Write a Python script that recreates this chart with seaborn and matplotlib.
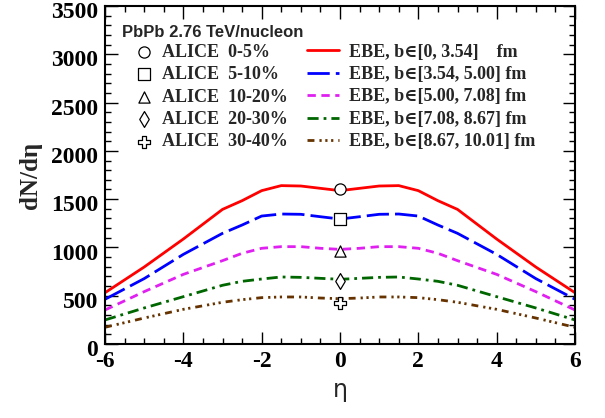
import numpy as np
import pandas as pd
import matplotlib
matplotlib.use("Agg")
import matplotlib.pyplot as plt
from matplotlib.ticker import MultipleLocator
from matplotlib.transforms import ScaledTranslation
import seaborn as sns

# pseudorapidity grid of the EBE curves
eta = [-6, -5, -4, -3, -2.5, -2, -1.5, -1, -0.5, 0, 0.5, 1, 1.5, 2, 2.5, 3, 4, 5, 6]

ebe_0 = [531, 797, 1087, 1394, 1484, 1588, 1640, 1636, 1612, 1588, 1612, 1636, 1640, 1588, 1484, 1394, 1087, 797, 531]
ebe_1 = [463, 677, 928, 1146, 1232, 1325, 1346, 1343, 1318, 1294, 1318, 1343, 1346, 1325, 1232, 1146, 928, 677, 463]
ebe_2 = [352, 542, 721, 863, 939, 991, 1008, 1008, 991, 980, 991, 1008, 1008, 991, 939, 863, 721, 542, 352]
ebe_3 = [249, 373, 490, 608, 649, 673, 694, 690, 680, 670, 680, 690, 694, 673, 649, 608, 490, 373, 249]
ebe_4 = [173, 269, 359, 432, 459, 480, 487, 487, 476, 469, 476, 487, 487, 480, 459, 432, 359, 269, 173]

ebe_labels = ["EBE, b\u2208[0, 3.54]    fm", "EBE, b\u2208[3.54, 5.00] fm",
              "EBE, b\u2208[5.00, 7.08] fm", "EBE, b\u2208[7.08, 8.67] fm",
              "EBE, b\u2208[8.67, 10.01] fm"]

# ALICE data at eta = 0
alice_eta = [0, 0, 0, 0, 0]
alice_dndeta = [1601, 1294, 966, 649, 426]
alice_labels = ["ALICE  0-5%", "ALICE  5-10%", "ALICE  10-20%", "ALICE  20-30%", "ALICE  30-40%"]

sns.set_style("ticks")
plt.rcParams["font.family"] = ["Liberation Serif", "DejaVu Serif"]
plt.rcParams["font.weight"] = "bold"
plt.rcParams["axes.unicode_minus"] = False

fig = plt.figure(figsize=(6.05, 4.18), dpi=100)
ax = fig.add_axes([105/605, 1-344/418, 470/605, 338/418])

colors = ["#ff0000", "#0000ff", "#e020f0", "#006600", "#663300"]
styles = ["-", (0, (8, 2.2)), (0, (3, 2)), (0, (4, 1.8, 1, 1.8)), (0, (2.5, 1.8, 0.8, 1.3, 0.8, 1.3, 0.8, 1.8))]
curves = [ebe_0, ebe_1, ebe_2, ebe_3, ebe_4]

line_handles = []
for vals, c, ls, lab in zip(curves, colors, styles, ebe_labels):
    sns.lineplot(x=eta, y=vals, ax=ax, color=c, linestyle=ls, linewidth=2.0, label=lab)
    line_handles.append(ax.lines[-1])

markers = ["o", "s", "^", "d", "P"]
pt_handles = []
for x0, y0, m, lab in zip(alice_eta, alice_dndeta, markers, alice_labels):
    sns.scatterplot(x=[x0], y=[y0], ax=ax, marker=m, s=65, color="white",
                    edgecolor="black", linewidth=0.9, label=lab, zorder=5)
    pt_handles.append(ax.collections[-1])

ax.set_xlim(-6, 6)
ax.set_ylim(0, 3500)
ax.xaxis.set_major_locator(MultipleLocator(2))
ax.xaxis.set_minor_locator(MultipleLocator(0.5))
ax.yaxis.set_major_locator(MultipleLocator(500))
ax.yaxis.set_minor_locator(MultipleLocator(100))
ax.tick_params(which="both", direction="in", top=True, right=True, width=1, colors="black")
ax.tick_params(which="major", length=9, labelsize=17, pad=5)
ax.tick_params(which="minor", length=4.5)
for sp in ax.spines.values():
    sp.set_linewidth(1.5)
    sp.set_color("black")

# ROOT-style labels sit a little below their ticks
shift = ScaledTranslation(0, -3/72, fig.dpi_scale_trans)
for lab in ax.get_yticklabels():
    lab.set_transform(lab.get_transform() + shift)

ax.set_xlabel("\u03b7", fontsize=17, family="DejaVu Sans", fontweight="normal", labelpad=4)
ax.set_ylabel("dN/d\u03b7", fontsize=18, fontweight="bold", labelpad=6)

ax.text(122/605, 1-37/418, "PbPb 2.76 TeV/nucleon", transform=fig.transFigure,
        family=["Liberation Sans", "DejaVu Sans"], fontweight="bold", fontsize=12)

leg1 = ax.legend(pt_handles, alice_labels, loc="center left",
                 bbox_to_anchor=(135/605, 1-97/418), bbox_transform=fig.transFigure,
                 frameon=False, prop={"weight": "bold", "size": 13}, handlelength=0.95,
                 handletextpad=0.55, borderpad=0, borderaxespad=0, labelspacing=0.3,
                 scatterpoints=1)
ax.add_artist(leg1)
ax.legend(line_handles, ebe_labels, loc="center left",
          bbox_to_anchor=(307/605, 1-97/418), bbox_transform=fig.transFigure,
          frameon=False, prop={"weight": "bold", "size": 13}, handlelength=1.75,
          handletextpad=0.6, borderpad=0, borderaxespad=0, labelspacing=0.3)

fig.savefig("out.png", dpi=100)
